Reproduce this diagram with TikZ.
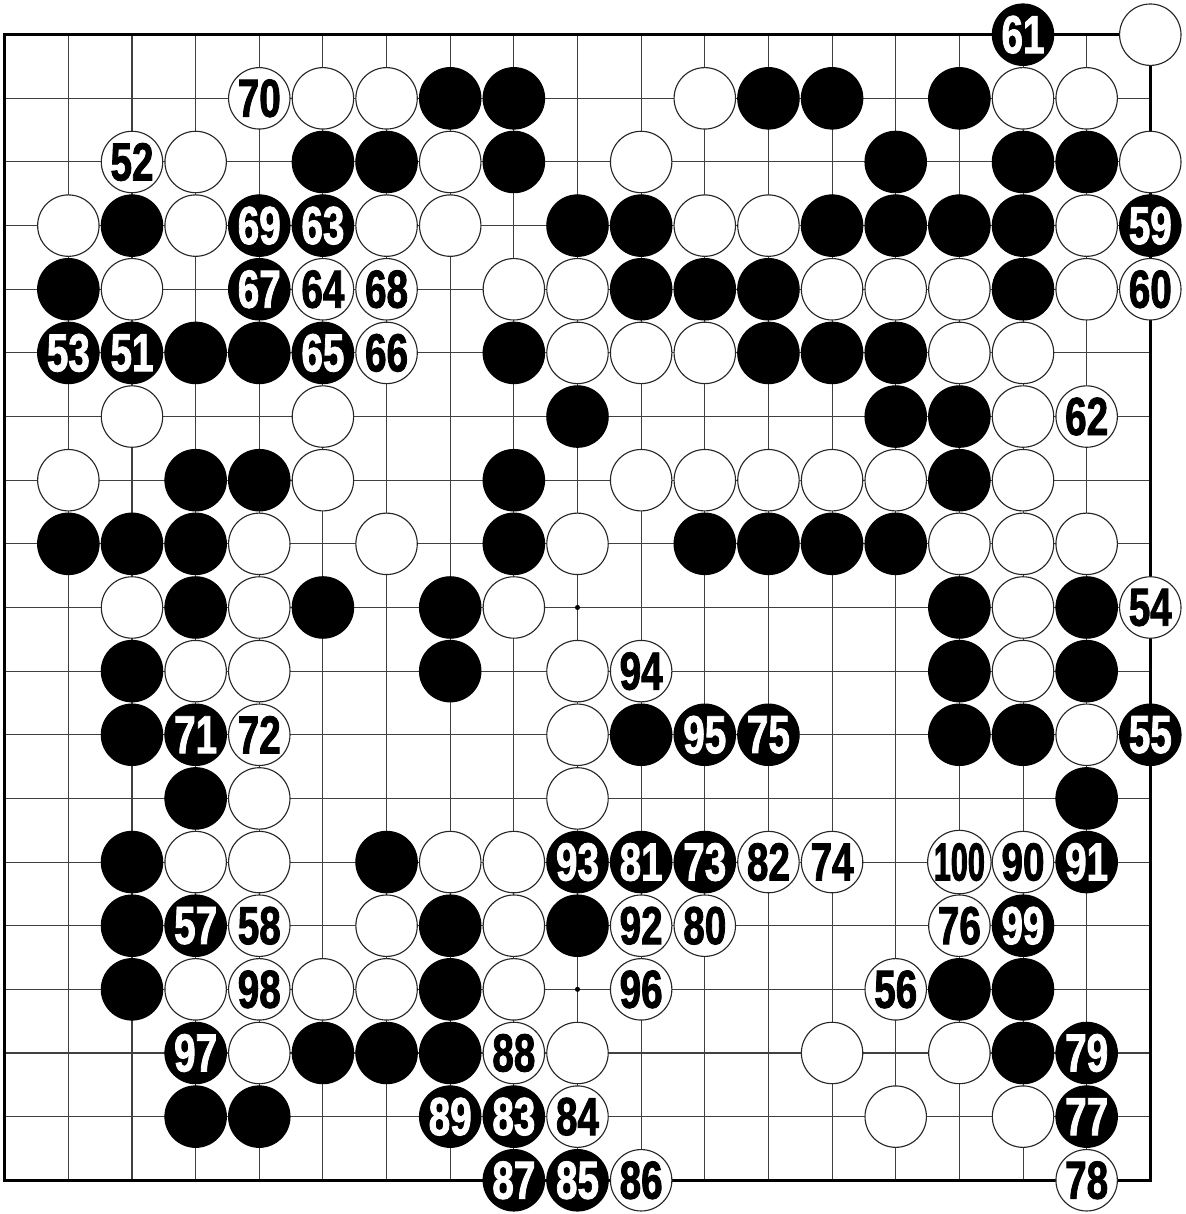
\documentclass[tikz,border=0pt]{standalone}
\usepackage{fontspec}
\newfontfamily\numfont[FakeStretch=0.72, BoldFeatures={FakeBold=1.5}]{Liberation Sans}
\newfontfamily\numfontn[FakeStretch=0.57, BoldFeatures={FakeBold=1.5}]{Liberation Sans}
\begin{document}
\begin{tikzpicture}[x=1cm,y=1cm,
  gridline/.style={line width=0.45pt, draw=black!75},
  borderline/.style={line width=1.4pt, draw=black},
  stone/.style={circle, minimum size=0.965cm, inner sep=0pt, line width=0.5pt,
    font=\numfont\bfseries\fontsize{24}{24}\selectfont},
  bs/.style={stone, fill=black, draw=black, text=white},
  ws/.style={stone, fill=white, draw=black!85, text=black},
  hoshi/.style={circle, fill=black, inner sep=0pt, minimum size=0.08cm}
]
\useasboundingbox (-0.074,0.545) rectangle (18.56,-18.53);
\foreach \i in {1,...,17} {
  \draw[gridline] (\i,0) -- (\i,-18);
  \draw[gridline] (0,-\i) -- (18,-\i);
}
\draw[borderline] (0,0) rectangle (18,-18);
\foreach \c/\r in {3/3,9/3,15/3,3/9,9/9,15/9,3/15,9/15,15/15}
  \node[hoshi] (h-\c-\r) at (\c,-\r) {};
% black stones without numbers
\foreach \c/\r in {7/1,8/1,12/1,13/1,15/1,
  5/2,6/2,8/2,14/2,16/2,17/2,
  2/3,9/3,10/3,13/3,14/3,15/3,16/3,
  1/4,10/4,11/4,12/4,16/4,
  3/5,4/5,8/5,12/5,13/5,14/5,
  9/6,14/6,15/6,
  3/7,4/7,8/7,15/7,
  1/8,2/8,3/8,8/8,11/8,12/8,13/8,14/8,
  3/9,5/9,7/9,15/9,17/9,
  2/10,7/10,15/10,17/10,
  2/11,10/11,15/11,16/11,
  3/12,17/12,
  2/13,6/13,
  2/14,7/14,9/14,
  2/15,7/15,15/15,16/15,
  5/16,6/16,7/16,16/16,
  3/17,4/17}
  \node[bs] (b-\c-\r) at (\c,-\r) {};
% white stones without numbers
\foreach \c/\r in {18/0,
  5/1,6/1,11/1,16/1,17/1,
  3/2,7/2,10/2,18/2,
  1/3,3/3,6/3,7/3,11/3,12/3,17/3,
  2/4,8/4,9/4,13/4,14/4,15/4,17/4,
  9/5,10/5,11/5,15/5,16/5,
  2/6,5/6,16/6,
  1/7,5/7,10/7,11/7,12/7,13/7,14/7,16/7,
  4/8,6/8,9/8,15/8,16/8,17/8,
  2/9,4/9,8/9,16/9,
  3/10,4/10,9/10,16/10,
  9/11,17/11,
  4/12,9/12,
  3/13,4/13,7/13,8/13,
  6/14,8/14,
  3/15,5/15,6/15,8/15,
  4/16,9/16,13/16,15/16,
  14/17,16/17}
  \node[ws] (w-\c-\r) at (\c,-\r) {};
% numbered black stones
\foreach \c/\r/\n in {16/0/61,4/3/69,5/3/63,18/3/59,4/4/67,1/5/53,2/5/51,5/5/65,
  3/11/71,11/11/95,12/11/75,18/11/55,9/13/93,10/13/81,11/13/73,17/13/91,
  3/14/57,16/14/99,3/16/97,17/16/79,7/17/89,8/17/83,17/17/77,8/18/87,9/18/85}
  \node[bs] (m\n) at (\c,-\r) {\n};
% numbered white stones
\foreach \c/\r/\n in {4/1/70,2/2/52,5/4/64,6/4/68,18/4/60,6/5/66,17/6/62,18/9/54,
  10/10/94,4/11/72,12/13/82,13/13/74,16/13/90,4/14/58,10/14/92,11/14/80,
  15/14/76,4/15/98,10/15/96,14/15/56,8/16/88,9/17/84,10/18/86,17/18/78}
  \node[ws] (m\n) at (\c,-\r) {\n};
\node[ws, font=\numfontn\bfseries\fontsize{24}{24}\selectfont] (m100) at (15,-13) {100};
\end{tikzpicture}
\end{document}
